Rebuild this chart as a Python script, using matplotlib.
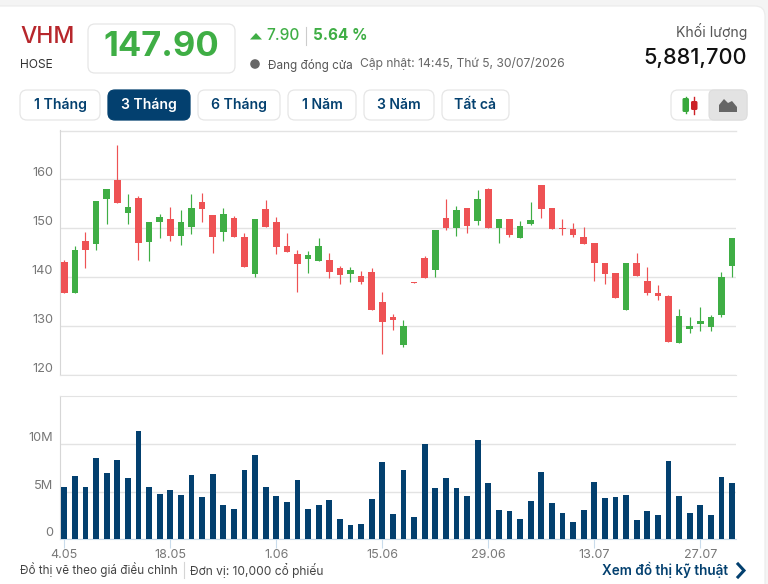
import matplotlib
matplotlib.use('Agg')
import matplotlib.pyplot as plt
from matplotlib.patches import FancyBboxPatch, Polygon, Circle

# OHLC theo phiên (đơn vị: nghìn đồng)
opens = [143.06, 136.67, 147.35, 146.80, 155.85, 159.80, 152.99, 156.12, 147.07, 151.16,
         151.84, 148.30, 150.14, 155.31, 152.65, 149.12, 152.04, 148.16, 140.54, 153.88,
         151.29, 146.39, 144.76, 143.74, 143.33, 143.54, 141.90, 140.68, 140.27, 141.09,
         134.97, 131.90, 126.19, 139.05, 143.95, 141.50, 152.11, 150.07, 154.15, 151.50,
         158.03, 150.07, 151.90, 148.03, 150.88, 158.84, 154.15, 150.07, 149.86, 148.23,
         147.01, 142.93, 140.88, 133.33, 142.93, 139.25, 136.80, 136.19, 126.60, 129.46,
         130.48, 129.86, 132.31, 142.31]
highs = [143.54, 146.33, 149.25, 155.51, 157.96, 167.00, 156.94, 156.60, 151.22, 152.86,
         154.29, 153.74, 156.94, 157.14, 152.65, 154.08, 152.45, 148.98, 151.84, 155.78,
         152.31, 148.98, 145.58, 145.37, 147.96, 144.97, 142.31, 142.11, 141.29, 141.90,
         137.01, 132.52, 131.29, 139.05, 144.35, 149.66, 155.99, 154.56, 154.15, 157.82,
         158.23, 151.90, 151.90, 151.50, 155.37, 158.84, 154.15, 151.90, 151.09, 150.27,
         147.01, 142.93, 140.88, 142.93, 144.97, 142.11, 138.44, 136.39, 133.54, 131.90,
         133.95, 132.31, 141.09, 148.03]
lows = [136.67, 136.67, 141.90, 145.58, 150.88, 155.03, 150.88, 143.54, 143.33, 148.03,
        147.41, 146.60, 148.84, 151.29, 144.97, 147.41, 148.10, 141.97, 139.93, 150.14,
        144.76, 145.17, 137.01, 140.88, 143.33, 139.86, 138.64, 139.05, 138.64, 133.33,
        124.35, 129.25, 125.78, 138.84, 139.86, 140.00, 149.66, 148.44, 149.05, 150.68,
        150.07, 147.00, 148.23, 148.03, 150.68, 152.11, 149.86, 148.64, 148.23, 146.80,
        139.25, 138.64, 135.78, 133.33, 140.27, 136.39, 135.37, 126.80, 126.60, 128.64,
        129.05, 129.05, 131.90, 140.07]
closes = [136.67, 145.58, 145.44, 155.51, 157.96, 155.03, 154.29, 146.87, 151.22, 152.24,
          148.30, 151.22, 154.08, 153.81, 148.10, 152.86, 148.10, 141.97, 151.84, 150.14,
          146.19, 145.17, 142.72, 144.56, 146.39, 141.09, 140.48, 141.50, 139.05, 133.33,
          130.88, 131.29, 130.07, 138.84, 139.86, 149.66, 150.00, 153.74, 150.48, 155.99,
          150.07, 151.90, 148.64, 150.48, 151.70, 153.95, 149.86, 149.86, 148.64, 146.80,
          142.93, 140.68, 135.78, 142.93, 140.27, 136.80, 136.19, 126.80, 132.11, 130.07,
          131.09, 131.90, 140.07, 147.90]
# Khối lượng (triệu cổ phiếu)
volumes = [5.49, 6.65, 5.49, 8.56, 6.97, 8.35, 6.44, 11.41, 5.49, 4.75,
           5.18, 4.65, 6.76, 4.44, 6.87, 3.59, 3.17, 7.29, 8.87, 5.49,
           4.54, 3.91, 6.23, 3.17, 3.59, 4.12, 2.11, 1.48, 1.58, 4.23,
           8.13, 2.64, 7.29, 2.32, 10.04, 5.39, 6.44, 5.39, 4.54, 10.46,
           5.92, 3.06, 2.96, 2.11, 4.01, 7.08, 3.80, 2.75, 1.80, 3.06,
           6.02, 4.33, 4.44, 4.65, 2.01, 2.96, 2.54, 8.24, 4.54, 2.75,
           3.59, 2.54, 6.55, 5.88]
date_pos = [0, 10, 20, 30, 40, 50, 60]
date_labels = ['4.05', '18.05', '1.06', '15.06', '29.06', '13.07', '27.07']
price_ticks = [120, 130, 140, 150, 160]
vol_ticks = [0, 5, 10]
vol_labels = ['0', '5M', '10M']
range_buttons = ['1 Tháng', '3 Tháng', '6 Tháng', '1 Năm', '3 Năm', 'Tất cả']

W, H = 768, 584
RED = '#ee5254'
GREEN = '#3fae45'
NAVY = '#03406f'
GRID = '#e3e3e3'
plt.rcParams['font.family'] = ['Inter', 'DejaVu Sans']


def px_axes(left, top, right, bottom):
    return fig.add_axes([left / W, 1 - bottom / H, (right - left) / W, (bottom - top) / H])


def box(x0, y0, x1, y1, r=6, fc='white', ec='#e6e6e6', lw=0.9, z=2):
    bg.add_patch(FancyBboxPatch((x0 + r, y0 + r), x1 - x0 - 2 * r, y1 - y0 - 2 * r,
                                boxstyle='round,pad=%d,rounding_size=%d' % (r, r),
                                fc=fc, ec=ec, lw=lw, zorder=z))


def px_size(px):
    return px * 72 / 100


fig = plt.figure(figsize=(W / 100, H / 100), dpi=100, facecolor='#f4f4f4')

# lớp nền: thẻ trắng và phần đầu trang
bg = fig.add_axes([0, 0, 1, 1])
bg.set_xlim(0, W)
bg.set_ylim(H, 0)
bg.axis('off')
box(-10, 6, 765, H + 30, r=10, ec='#ececec', z=1)

bg.text(20, 37, 'VHM', color='#b7272c', fontsize=px_size(23), fontweight='medium', va='center')
bg.text(20, 64.5, 'HOSE', color='#333333', fontsize=px_size(12), va='center')
box(88, 24, 235, 73, r=7)
bg.text(161.5, 47, '147.90', color=GREEN, fontsize=px_size(34.5), fontweight='bold', ha='center', va='center')
bg.add_patch(Polygon([[250, 39.5], [262, 39.5], [256, 33]], fc=GREEN, ec='none'))
bg.text(266, 36, '7.90', color=GREEN, fontsize=px_size(15.5), fontweight='medium', va='center')
bg.plot([306, 306], [27, 45], color='#cccccc', lw=0.8)
bg.text(313, 36, '5.64 %', color=GREEN, fontsize=px_size(15.3), fontweight='bold', va='center')
bg.add_patch(Circle((255, 64), 4.8, fc='#666666', ec='none'))
bg.text(268, 65, 'Đang đóng cửa', color='#555555', fontsize=px_size(11.7), va='center')
bg.text(360, 64, 'Cập nhật: 14:45, Thứ 5, 30/07/2026', color='#666666', fontsize=px_size(12.1), va='center')
bg.text(747, 32, 'Khối lượng', color='#555555', fontsize=px_size(14), ha='right', va='center')
bg.text(747, 58, '5,881,700', color='#111111', fontsize=px_size(21.7), fontweight='medium', ha='right', va='center')

# các nút chọn khoảng thời gian
button_x = [(20, 100), (108, 190), (198, 280), (288, 356), (364, 434), (442, 509)]
for (x0, x1), label in zip(button_x, range_buttons):
    active = label == '3 Tháng'
    box(x0, 90, x1, 120, r=7, fc=NAVY if active else 'white', ec=NAVY if active else '#e6e6e6')
    bg.text((x0 + x1) / 2, 105, label, color='white' if active else NAVY,
            fontsize=px_size(14), fontweight='semibold', ha='center', va='center')

# nút đổi kiểu biểu đồ
box(671, 90, 747, 120, r=7)
bg.add_patch(FancyBboxPatch((713, 94), 30, 22, boxstyle='round,pad=4,rounding_size=5', fc='#e3e3e3', ec='#dddddd', lw=0.8, zorder=3))
bg.add_patch(FancyBboxPatch((683.5, 99), 4.5, 12, boxstyle='round,pad=1,rounding_size=1.5', fc='#38a83c', ec='none', zorder=4))
bg.plot([685.75, 685.75], [97, 113], color='#38a83c', lw=1, zorder=4)
bg.add_patch(FancyBboxPatch((692, 102), 4.5, 7, boxstyle='round,pad=1,rounding_size=1.5', fc='#cc2127', ec='none', zorder=4))
bg.plot([694.25, 694.25], [97, 114], color='#cc2127', lw=1, zorder=4)
bg.add_patch(Polygon([[719, 112], [719, 105], [724, 99], [728, 103], [732, 101], [737, 107], [737, 112]],
                     fc='#666666', ec='none', zorder=4))

# chân biểu đồ
bg.text(20, 570, 'Đồ thị vẽ theo giá điều chỉnh', color='#444444', fontsize=px_size(11.7), va='center')
bg.plot([184, 184], [562, 578], color='#d5d5d5', lw=0.8)
bg.text(190, 570, 'Đơn vị: 10,000 cổ phiếu', color='#444444', fontsize=px_size(12), va='center')
bg.text(602, 570, 'Xem đồ thị kỹ thuật', color=NAVY, fontsize=px_size(13.5), fontweight='semibold', va='center')
bg.plot([738, 744, 738], [564, 570.5, 577], color=NAVY, lw=2.2, solid_joinstyle='miter')

# biểu đồ nến
xs = list(range(len(closes)))
ax = px_axes(59.5, 130.5, 736, 375)
ax.set_facecolor('none')
ax.set_xlim(-0.45, 63.37)
ax.set_ylim(120, 169.9)
for i in xs:
    color = GREEN if closes[i] >= opens[i] else RED
    ax.vlines(i, lows[i], highs[i], color=color, lw=0.85, zorder=3)
    body = abs(closes[i] - opens[i])
    ax.bar(i, body, bottom=min(opens[i], closes[i]), width=0.63, color=color, zorder=4, linewidth=0)
ax.set_yticks(price_ticks)
ax.set_xticks([])
ax.grid(axis='y', color=GRID, lw=1)
ax.set_axisbelow(True)
ax.tick_params(axis='y', length=0, pad=4.5, labelsize=px_size(12.8), labelcolor='#777777')
plt.setp(ax.get_yticklabels(), va='bottom')
for side in ['top', 'right']:
    ax.spines[side].set_visible(False)
ax.plot([0, 1], [1, 1], transform=ax.transAxes, color=GRID, lw=1, clip_on=False)
ax.spines['left'].set_color('#d6d6d6')
ax.spines['bottom'].set_color(GRID)

# biểu đồ khối lượng
ax2 = px_axes(59.5, 395.5, 736, 539)
ax2.set_facecolor('none')
ax2.set_xlim(-0.45, 63.37)
ax2.set_ylim(0, 15.15)
ax2.bar(xs, volumes, width=0.55, color=NAVY, zorder=3, linewidth=0)
ax2.set_yticks(vol_ticks, vol_labels)
ax2.set_xticks(date_pos, date_labels)
ax2.grid(axis='y', color=GRID, lw=1)
ax2.set_axisbelow(True)
ax2.tick_params(axis='y', length=0, pad=4.5, labelsize=px_size(12.8), labelcolor='#777777')
ax2.tick_params(axis='x', length=6.5, width=0.8, color='#c9dcec', pad=1, labelsize=px_size(12.5), labelcolor='#777777')
plt.setp(ax2.get_yticklabels(), va='bottom')
ax2.spines['right'].set_visible(False)
ax2.spines['top'].set_color(GRID)
ax2.spines['left'].set_color('#d6d6d6')
ax2.spines['bottom'].set_color('#c9dcec')

fig.savefig('out.png', dpi=100, facecolor=fig.get_facecolor())
